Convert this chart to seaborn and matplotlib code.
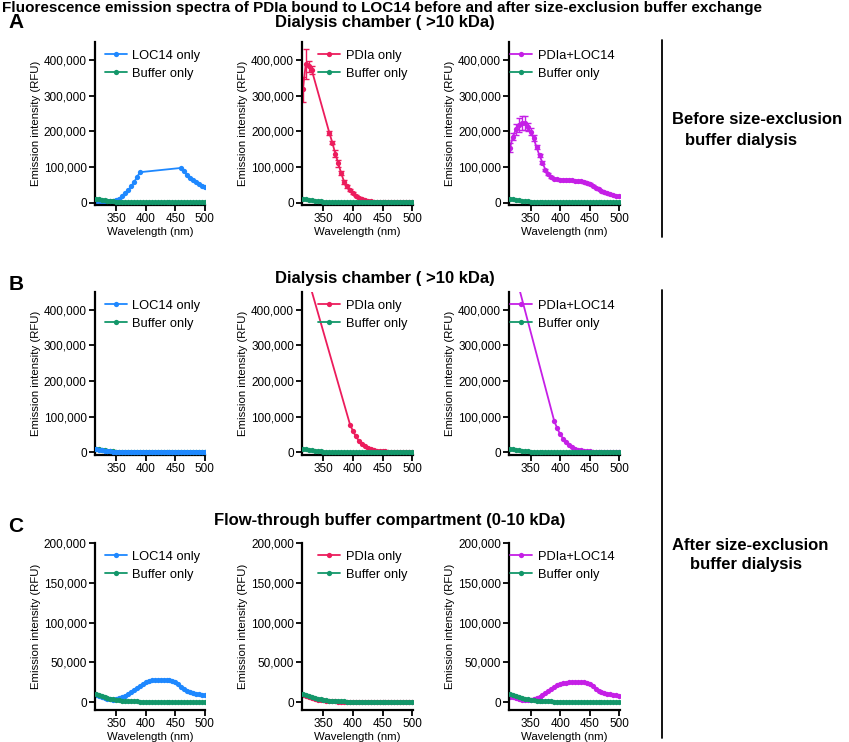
import numpy as np
import pandas as pd
import matplotlib
matplotlib.use("Agg")
import matplotlib.pyplot as plt
from matplotlib.lines import Line2D
from matplotlib.ticker import StrMethodFormatter
import seaborn as sns

nan = np.nan

# ---- data ----
wavelength = list(range(315, 505, 5))

buffer_only = [10000, 8600, 7300, 6100, 5000, 4100, 3300, 2700, 2200, 1800,
               1450, 1200, 1000, 850, 720, 620, 540, 470, 420, 380,
               340, 310, 280, 260, 240, 220, 200, 190, 180, 170,
               160, 150, 140, 130, 120, 110, 100, 90]

# A: dialysis chamber, before dialysis
a_loc14 = [3000, 3000, 2800, 2800, 3000, 3500, 4500, 6500, 11000, 18000,
           26000, 34000, 45000, 57000, 71000, 85000, nan, nan, nan, nan,
           nan, nan, nan, nan, nan, nan, nan, nan, nan, 97000,
           88000, 76000, 68000, 62000, 57000, 52000, 47000, 43000]
a_pdia = [318000, 388000, 382000, 372000, nan, nan, nan, nan, nan, 195000,
          168000, 137000, 110000, 82000, 58000, 45000, 35000, 26000, 19000, 13500,
          9500, 6500, 4500, 3200, 2300, 1700, 1300, 1000, 800, 650,
          550, 480, 420, 380, 340, 310, 290, 270]
a_pdia_err = [35000, 42000, 15000, 12000, nan, nan, nan, nan, nan, 6000,
              5000, 9000, 10000, 6000, 5000, 4000, 3000, 2500, 2000, 1500,
              1000, 800, 600, 500, 400, 300, 300, 200, 200, 200,
              200, 200, 200, 200, 200, 200, 200, 200]
a_pdia_loc14 = [154000, 185000, 205000, 218000, 222000, 222000, 212000, 198000, 180000, 155000,
                132000, 112000, 92000, 79000, 71000, 67000, 65000, 64000, 63000, 63000,
                63000, 62000, 61000, 60000, 59000, 57000, 55000, 52000, 47000, 42000,
                37000, 33000, 29000, 26000, 23000, 21000, 19000, 17000]
a_pdia_loc14_err = [12000, 10000, 15000, 20000, 20000, 20000, 12000, 10000, 8000, 6000,
                    5000, 4000, 3000, 3000, 2500, 2000, 2000, 2000, 2000, 2000,
                    2000, 2000, 2000, 2000, 2000, 2000, 2000, 2000, 2000, 2000,
                    1500, 1500, 1500, 1500, 1000, 1000, 1000, 1000]

# B: dialysis chamber, after dialysis
b_loc14 = [9000, 8000, 6500, 5000, 3800, 2800, 2100, 1600, 1200, 900,
           700, 550, 450, 380, 320, 280, 250, 220, 200, 180,
           160, 150, 140, 130, 120, 110, 100, 95, 90, 85,
           80, 75, 70, 65, 60, 55, 50, 45]
b_pdia = [nan, 510000, nan, nan, nan, nan, nan, nan, nan, nan,
          nan, nan, nan, nan, nan, nan, 78000, 60000, 45000, 33000,
          24000, 17000, 12500, 9500, 7000, 5500, 4300, 3500, 2900, 2400,
          2000, 1700, 1500, 1300, 1200, 1100, 1000, 900]
b_pdia_loc14 = [nan, 526000, nan, nan, nan, nan, nan, nan, nan, nan,
                nan, nan, nan, nan, nan, 88000, 68000, 51000, 39000, 29000,
                21000, 15000, 11000, 8000, 6000, 4600, 3600, 3000, 2500, 2100,
                1800, 1600, 1400, 1300, 1200, 1100, 1000, 950]

# C: flow-through compartment, after dialysis
c_loc14 = [9500, 8000, 6500, 5000, 4000, 3300, 3100, 3400, 4500, 6000,
           8000, 10500, 13000, 15500, 18000, 20500, 23000, 25000, 26300, 27200,
           27700, 28000, 28200, 28200, 28000, 27700, 27000, 25500, 22500, 19000,
           16000, 14000, 12500, 11500, 10500, 9800, 9000, 8500]
c_pdia = [9000, 7600, 6200, 5000, 4000, 3200, 2500, 2000, 1600, 1300,
          1000, 800, 650, 520, 420, 350, 300, 260, 230, 200,
          180, 160, 150, 140, 130, 120, 110, 100, 95, 90,
          85, 80, 75, 70, 65, 60, 55, 50]
c_pdia_loc14 = [7000, 6000, 5000, 4000, 3200, 2800, 2600, 2800, 3600, 5000,
                7000, 9000, 11500, 14000, 16500, 19000, 21000, 22500, 23800, 24600,
                25000, 25200, 25300, 25300, 25200, 24800, 24000, 22500, 20000, 17000,
                14500, 12800, 11500, 10500, 9700, 9000, 8400, 8000]

c_blue = "#1e88ff"
c_green = "#13976a"
c_pink = "#ec1c5c"
c_magenta = "#c51fe6"

# (sample label, sample values, error values, colour, sample on top)
rows = [
    [("LOC14 only", a_loc14, None, c_blue, False),
     ("PDIa only", a_pdia, a_pdia_err, c_pink, False),
     ("PDIa+LOC14", a_pdia_loc14, a_pdia_loc14_err, c_magenta, False)],
    [("LOC14 only", b_loc14, None, c_blue, True),
     ("PDIa only", b_pdia, None, c_pink, False),
     ("PDIa+LOC14", b_pdia_loc14, None, c_magenta, False)],
    [("LOC14 only", c_loc14, None, c_blue, False),
     ("PDIa only", c_pdia, None, c_pink, False),
     ("PDIa+LOC14", c_pdia_loc14, None, c_magenta, False)],
]

sns.set_style("ticks")
plt.rcParams["font.family"] = ["Liberation Sans", "DejaVu Sans"]
plt.rcParams["text.color"] = "black"
plt.rcParams["axes.labelcolor"] = "black"
plt.rcParams["xtick.color"] = "black"
plt.rcParams["ytick.color"] = "black"
plt.rcParams["axes.edgecolor"] = "black"

fig = plt.figure(figsize=(8.49, 7.42), dpi=100)

col_left = [0.112, 0.356, 0.600]
row_bottom = [0.7237, 0.3868, 0.0431]
row_height = [0.2197, 0.2197, 0.225]
row_ylim = [(-7000, 450000), (-7000, 450000), (-10000, 200000)]
row_yticks = [np.arange(0, 400001, 100000), np.arange(0, 400001, 100000),
              np.arange(0, 200001, 50000)]

for r, row in enumerate(rows):
    for c, (label, values, err, color, sample_top) in enumerate(row):
        ax = fig.add_axes([col_left[c], row_bottom[r], 0.13, row_height[r]])
        df = pd.DataFrame({"wl": wavelength, "rfu": values, "buf": buffer_only})
        sample = df.dropna(subset=["rfu"])
        sns.lineplot(data=sample, x="wl", y="rfu", color=color, marker="o",
                     markersize=3.8, markeredgewidth=0, linewidth=1.3,
                     label=label, ax=ax, zorder=4 if sample_top else 2)
        sns.lineplot(data=df, x="wl", y="buf", color=c_green, marker="o",
                     markersize=3.8, markeredgewidth=0, linewidth=1.3,
                     label="Buffer only", ax=ax, zorder=3)
        if err is not None:
            e = pd.DataFrame({"wl": wavelength, "rfu": values, "err": err}).dropna()
            ax.errorbar(e["wl"], e["rfu"], yerr=e["err"], fmt="none",
                        ecolor=color, elinewidth=1.0, capsize=2.5, zorder=2)
        ax.set_xlim(314, 501)
        ax.set_ylim(*row_ylim[r])
        ax.set_xticks([350, 400, 450, 500])
        ax.set_yticks(row_yticks[r])
        ax.yaxis.set_major_formatter(StrMethodFormatter("{x:,.0f}"))
        ax.tick_params(labelsize=8.5, length=4, width=1.3, pad=2)
        for s in ["left", "bottom"]:
            ax.spines[s].set_linewidth(1.6)
        sns.despine(ax=ax)
        ax.set_ylabel("Emission intensity (RFU)", fontsize=8.2, labelpad=2)
        if r == 1:
            ax.set_xlabel("")
        else:
            ax.set_xlabel("Wavelength (nm)", fontsize=8.2, labelpad=1)
        ax.legend(loc="upper right", bbox_to_anchor=(1.02, 1.0), frameon=False,
                  fontsize=9.3, handlelength=1.7, handletextpad=0.4,
                  labelspacing=0.45, borderaxespad=0.2)

W, H = 849, 742


def fx(px):
    return px / W


def fy(py):
    return 1 - py / H


fig.text(fx(2), fy(12), "Fluorescence emission spectra of PDIa bound to LOC14 before and after "
         "size-exclusion buffer exchange", fontsize=11, fontweight="bold", va="baseline", ha="left")

for letter, py in [("A", 23), ("B", 285), ("C", 526)]:
    fig.text(fx(16), fy(py), letter, fontsize=15, fontweight="bold", ha="center", va="center")

fig.text(fx(385), fy(23), "Dialysis chamber ( >10 kDa)", fontsize=12, fontweight="bold",
         ha="center", va="center")
fig.text(fx(385), fy(278), "Dialysis chamber ( >10 kDa)", fontsize=12, fontweight="bold",
         ha="center", va="center")
fig.text(fx(390), fy(520), "Flow-through buffer compartment (0-10 kDa)", fontsize=12,
         fontweight="bold", ha="center", va="center")

fig.text(fx(672), fy(119), "Before size-exclusion", fontsize=12, fontweight="bold", va="center")
fig.text(fx(685), fy(141), "buffer dialysis", fontsize=12, fontweight="bold", va="center")
fig.text(fx(672), fy(545), "After size-exclusion", fontsize=12, fontweight="bold", va="center")
fig.text(fx(690), fy(564), "buffer dialysis", fontsize=12, fontweight="bold", va="center")

fig.add_artist(Line2D([fx(662), fx(662)], [fy(40), fy(237)], color="black", linewidth=1.3))
fig.add_artist(Line2D([fx(662), fx(662)], [fy(290), fy(738)], color="black", linewidth=1.3))

fig.savefig("out.png", dpi=100)
